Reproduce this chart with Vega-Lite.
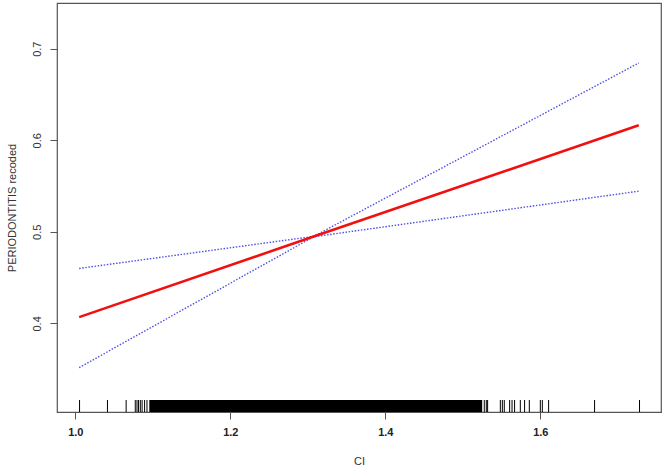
{
  "$schema": "https://vega.github.io/schema/vega-lite/v6.json",
  "width": 604,
  "height": 409,
  "autosize": {"type": "none"},
  "padding": {"left": 57, "top": 3, "right": 8, "bottom": 57},
  "background": "white",
  "config": {
    "font": "Liberation Sans",
    "view": {"stroke": "#555555", "strokeWidth": 1.2},
    "axis": {"grid": false, "domain": false, "tickColor": "#555555", "tickSize": 7, "labelFontSize": 11, "titleFontSize": 11, "titleFontWeight": "normal", "titleColor": "#333333", "labelColor": "#333333"}
  },
  "datasets": {
    "curve": [
      {"CI": 1.005, "est": 0.4068, "lo": 0.3517, "hi": 0.4600},
      {"CI": 1.3075, "est": 0.4948, "lo": 0.4946, "hi": 0.4950},
      {"CI": 1.727, "est": 0.6164, "lo": 0.5444, "hi": 0.6844}
    ],
    "rug": [
      {"CI": 1.0055}, {"CI": 1.0415}, {"CI": 1.0656}, {"CI": 1.0774}, {"CI": 1.0796}, {"CI": 1.0816},
      {"CI": 1.0839}, {"CI": 1.0862}, {"CI": 1.0894}, {"CI": 1.0925}, {"CI": 1.5277}, {"CI": 1.5303},
      {"CI": 1.532}, {"CI": 1.5484}, {"CI": 1.551}, {"CI": 1.5535}, {"CI": 1.5604}, {"CI": 1.5635},
      {"CI": 1.5668}, {"CI": 1.5742}, {"CI": 1.5797}, {"CI": 1.5858}, {"CI": 1.6}, {"CI": 1.6026},
      {"CI": 1.6107}, {"CI": 1.670}, {"CI": 1.728}
    ],
    "band": [
      {"start": 1.0955, "end": 1.525}
    ]
  },
  "encoding": {
    "x": {"field": "CI", "type": "quantitative", "title": "CI",
      "scale": {"domain": [0.9764, 1.7557], "nice": false, "zero": false},
      "axis": {"values": [1.0, 1.2, 1.4, 1.6], "format": ".1f", "labelFontWeight": "bold", "labelColor": "#222222", "labelPadding": 7, "titlePadding": 18}}
  },
  "layer": [
    {
      "data": {"name": "band"},
      "mark": {"type": "rect", "color": "black"},
      "encoding": {
        "x": {"field": "start", "type": "quantitative"},
        "x2": {"field": "end"},
        "y": {"datum": 0.3032, "type": "quantitative"},
        "y2": {"datum": 0.3163}
      }
    },
    {
      "data": {"name": "rug"},
      "mark": {"type": "rule", "color": "black", "strokeWidth": 1},
      "encoding": {
        "y": {"datum": 0.3032, "type": "quantitative"},
        "y2": {"datum": 0.3163}
      }
    },
    {
      "data": {"name": "curve"},
      "mark": {"type": "line", "color": "#5050e6", "strokeWidth": 1.4, "strokeDash": [1.5, 1.6]},
      "encoding": {"y": {"field": "lo", "type": "quantitative"}}
    },
    {
      "data": {"name": "curve"},
      "mark": {"type": "line", "color": "#5050e6", "strokeWidth": 1.4, "strokeDash": [1.5, 1.6]},
      "encoding": {"y": {"field": "hi", "type": "quantitative"}}
    },
    {
      "data": {"name": "curve"},
      "mark": {"type": "line", "color": "#f01010", "strokeWidth": 2.6},
      "encoding": {
        "y": {"field": "est", "type": "quantitative", "title": "PERIODONTITIS recoded",
          "scale": {"domain": [0.3032, 0.7499], "nice": false, "zero": false},
          "axis": {"values": [0.4, 0.5, 0.6, 0.7], "format": ".1f", "labelAngle": -90, "labelAlign": "center", "labelBaseline": "bottom", "labelPadding": 8, "titlePadding": 14}}
      }
    }
  ]
}
